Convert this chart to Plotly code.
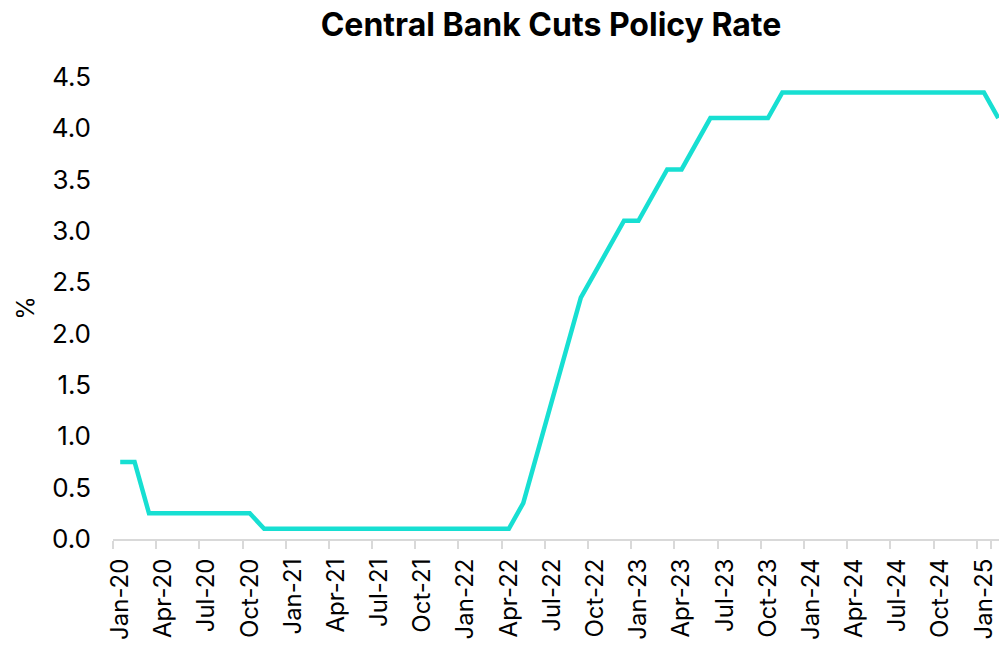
import pandas as pd
import plotly.graph_objects as go

months = [d.strftime("%b-%y") for d in pd.date_range("2020-01-01", "2025-02-01", freq="MS")]
rates = [0.75, 0.75, 0.25, 0.25, 0.25, 0.25, 0.25, 0.25, 0.25, 0.25,
         0.10, 0.10, 0.10, 0.10, 0.10, 0.10, 0.10, 0.10, 0.10, 0.10, 0.10, 0.10,
         0.10, 0.10, 0.10, 0.10, 0.10, 0.10,
         0.35, 0.85, 1.35, 1.85, 2.35, 2.60, 2.85, 3.10,
         3.10, 3.35, 3.60, 3.60, 3.85, 4.10, 4.10, 4.10, 4.10, 4.10,
         4.35, 4.35, 4.35, 4.35, 4.35, 4.35, 4.35, 4.35, 4.35, 4.35, 4.35, 4.35,
         4.35, 4.35, 4.35, 4.10]
tick_labels = months[::3]
y_ticks = [0.0, 0.5, 1.0, 1.5, 2.0, 2.5, 3.0, 3.5, 4.0, 4.5]

FONT = "Inter"
INK = "#000000"

fig = go.Figure()
fig.add_trace(go.Scatter(
    x=months, y=rates, mode="lines",
    line=dict(color="#17DFD2", width=4.5),
    hoverinfo="skip", showlegend=False, cliponaxis=True,
))

fig.update_layout(
    width=999, height=649,
    margin=dict(l=113, r=0, t=77, b=110, autoexpand=False),
    paper_bgcolor="white", plot_bgcolor="white",
    font=dict(family=FONT, color=INK),
    title=dict(text="<b>Central Bank Cuts Policy Rate</b>", x=551 / 999, xanchor="center",
               xref="container", y=1 - 14 / 649, yanchor="top",
               font=dict(size=32, family=FONT, color=INK)),
)
fig.update_xaxes(
    type="category", range=[-0.5, 61.05], automargin=False,
    tickmode="array", tickvals=tick_labels, ticktext=tick_labels,
    tickson="boundaries", ticks="outside", ticklen=8, tickwidth=1.5, tickcolor="#d9d9d9",
    tickangle=-90, tickfont=dict(size=24, family=FONT, color=INK),
    showline=True, linecolor="#d9d9d9", linewidth=2,
    showgrid=False, zeroline=False, ticklabelstandoff=8,
)
fig.update_yaxes(
    range=[0, 4.5], tickmode="array", tickvals=y_ticks, automargin=False,
    ticktext=[f"{v:.1f}" for v in y_ticks],
    tickfont=dict(size=26, family=FONT, color=INK),
    showline=False, showgrid=False, zeroline=False, ticks="",
    ticklabelstandoff=21,
    title=dict(text="%", font=dict(size=24, family=FONT, color=INK), standoff=10),
)

fig.write_html(
    "out.html",
    config={"displayModeBar": False},
    post_script="document.body.style.margin='0';document.body.style.overflow='hidden';",
)
